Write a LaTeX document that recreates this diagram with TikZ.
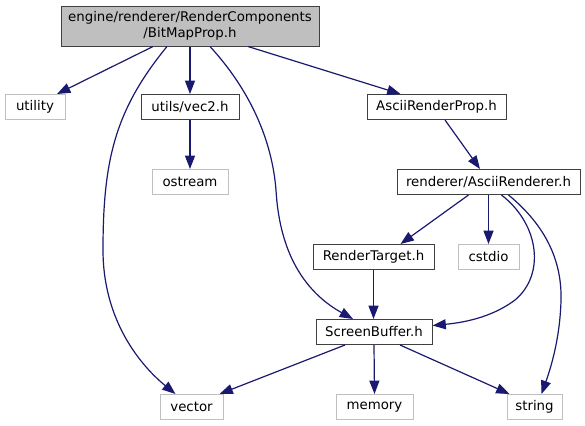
\documentclass[tikz,border=0pt]{standalone}
\usepackage{fontspec}
\setmainfont{DejaVu Sans}
\usetikzlibrary{arrows.meta,calc}
\definecolor{edgeblue}{HTML}{191970}
\definecolor{nodeborder}{HTML}{404040}
\definecolor{extborder}{HTML}{BFBFBF}
\definecolor{topfill}{HTML}{BFBFBF}
\begin{document}
\begin{tikzpicture}[x=0.75pt,y=-0.75pt,
  bw/.style={minimum width=#1*0.75pt},
  box/.style={draw=nodeborder, line width=0.75pt, inner sep=0pt, minimum height=18.75pt, font=\fontsize{10}{12}\selectfont},
  ext/.style={box, draw=extborder},
  link/.style={draw=edgeblue, line width=0.9pt, -{Triangle[length=10pt,width=7.5pt]}}]
\useasboundingbox (0,0) rectangle (585,425);
% nodes
\node[box, fill=topfill, bw=258, minimum height=30pt, align=center] (top) at (190,26) {engine/renderer/RenderComponents\\/BitMapProp.h};
\node[ext, bw=60] (utility) at (35,107) {utility};
\node[box, bw=98] (vec) at (190,107) {utils/vec2.h};
\node[box, bw=139] (ARP) at (436.5,107) {AsciiRenderProp.h};
\node[ext, bw=76] (ostream) at (190,182) {ostream};
\node[box, bw=183] (AR) at (488.5,182) {renderer/AsciiRenderer.h};
\node[box, bw=121] (RT) at (373.5,257) {RenderTarget.h};
\node[ext, bw=61] (cstdio) at (488.5,257) {cstdio};
\node[box, bw=116] (SB) at (374,332) {ScreenBuffer.h};
\node[ext, bw=63] (vector) at (191.5,407) {vector};
\node[ext, bw=77] (memory) at (374.5,407) {memory};
\node[ext, bw=55] (string) at (534.5,407) {string};
% edges
\draw[link] ($(top.south)+(-37,0)$) -- ($(utility.north)+(22,0)$);
\draw[link] (top.south) -- (vec.north);
\draw[link] ($(top.south)+(-23,0)$) .. controls (115,110) and (103,160) .. (103,250)
  .. controls (103,320) and (140,365) .. ($(vector.north)+(-16,0)$);
\draw[link] ($(top.south)+(20,0)$) .. controls (250,90) and (272,140) .. (276,190)
  .. controls (280,260) and (310,295) .. ($(SB.north)+(-21,0)$);
\draw[link] ($(top.south)+(58,0)$) -- ($(ARP.north)+(-36,0)$);
\draw[link] (vec.south) -- (ostream.north);
\draw[link] ($(ARP.south)+(8.5,0)$) -- ($(AR.north)+(-8.5,0)$);
\draw[link] ($(AR.south)+(-20,0)$) -- ($(RT.north)+(27,0)$);
\draw[link] (AR.south) -- (cstdio.north);
\draw[link] ($(AR.south)+(13,0)$) .. controls (540,225) and (545,275) .. (515,300)
  .. controls (495,315) and (470,322) .. ($(SB.east)+(0,-6.5)$);
\draw[link] ($(AR.south)+(20,0)$) .. controls (545,225) and (562,260) .. (561,300)
  .. controls (560,340) and (550,370) .. ($(string.north)+(7,0)$);
\draw[link] (RT.south) -- (RT.south |- SB.north);
\draw[link] ($(SB.south)+(-29,0)$) -- ($(vector.north)+(28,0)$);
\draw[link] (SB.south) -- (memory.north);
\draw[link] ($(SB.south)+(26,0)$) -- ($(string.north)+(-25,0)$);
\end{tikzpicture}
\end{document}
